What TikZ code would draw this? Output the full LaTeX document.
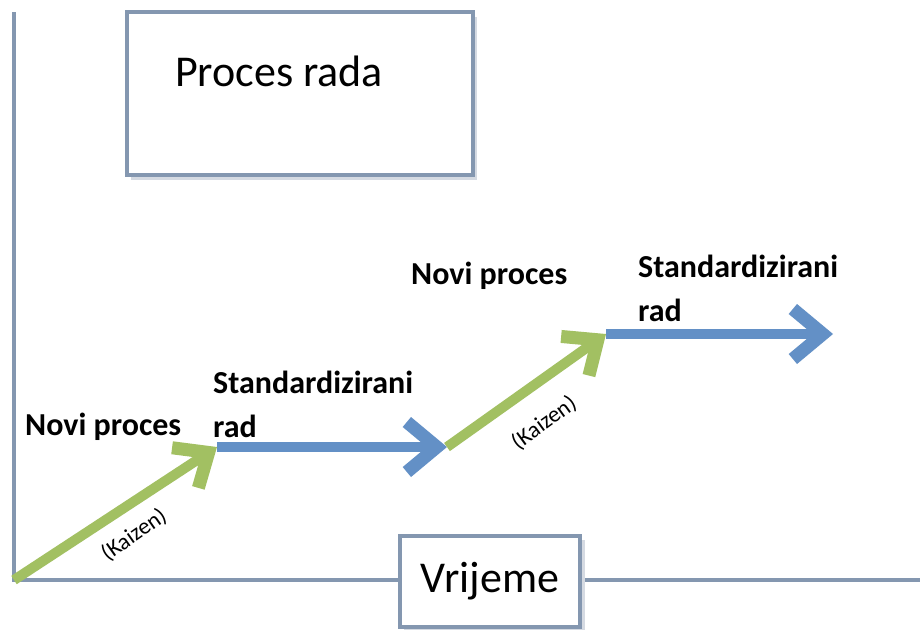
\documentclass[tikz,border=0pt]{standalone}
\usepackage{fontspec}
\setmainfont{Carlito}
\usetikzlibrary{arrows.meta}
\definecolor{axisc}{HTML}{8497B0}
\definecolor{shad}{HTML}{D5DAE2}
\definecolor{kblue}{HTML}{6390C6}
\definecolor{kgreen}{HTML}{A2C062}
\tikzset{
  axis/.style={draw=axisc, line width=4.5pt},
  boxstyle/.style={draw=axisc, line width=3.5pt, fill=white, inner sep=0pt},
  shadowbox/.style={fill=shad, draw=none},
  lbl/.style={font=\fontsize{32}{44}\selectfont\bfseries, align=left, inner sep=0pt, anchor=base west},
  kz/.style={font=\fontsize{23}{25}\selectfont, inner sep=0pt},
  blueline/.style={draw=kblue, line width=10pt, -{Straight Barb[length=30pt,width=50pt,line width=13pt]}},
  greenline/.style={draw=kgreen, line width=10pt, -{Straight Barb[length=28pt,width=48pt,line width=13pt]}}
}
\begin{document}
\begin{tikzpicture}[x=1pt,y=-1pt]
\useasboundingbox (0,0) rectangle (920,630);
\fill[white] (0,0) rectangle (920,630);
% axes
\coordinate (O) at (14,580);
\coordinate (Ytop) at (14,12);
\coordinate (Xend) at (920,580);
\draw[axis] (Ytop) -- (O) -- (Xend);
% top box
\fill[shadowbox] (131,17) rectangle (477,180);
\node[boxstyle, minimum width=346pt, minimum height=163pt] (box) at (300,93.5) {};
\node[font=\fontsize{44}{48}\selectfont, inner sep=0pt] (title) at (279,71) {Proces rada};
% time box
\fill[shadowbox] (404,540) rectangle (585,630);
\node[boxstyle, minimum width=180pt, minimum height=91pt, font=\fontsize{44}{48}\selectfont] (time) at (490,581.5) {Vrijeme};
% arrow points
\coordinate (P1) at (217,447);
\coordinate (P2) at (447,447);
\coordinate (P3) at (606,334);
\coordinate (P4) at (833,334);
\draw[greenline] (O) -- (P1);
\draw[blueline] (P1) -- (P2);
\draw[greenline] (P2) -- (P3);
\draw[blueline] (P3) -- (P4);
% labels
\node[lbl] (np1) at (25,435) {Novi proces};
\node[lbl] (sr1) at (213,437) {Standardizirani\\rad};
\node[lbl] (np2) at (411,284) {Novi proces};
\node[lbl] (sr2) at (638,321) {Standardizirani\\rad};
\node[kz, rotate=35] (kz1) at (134,535) {(Kaizen)};
\node[kz, rotate=36] (kz2) at (544,423) {(Kaizen)};
\end{tikzpicture}
\end{document}
